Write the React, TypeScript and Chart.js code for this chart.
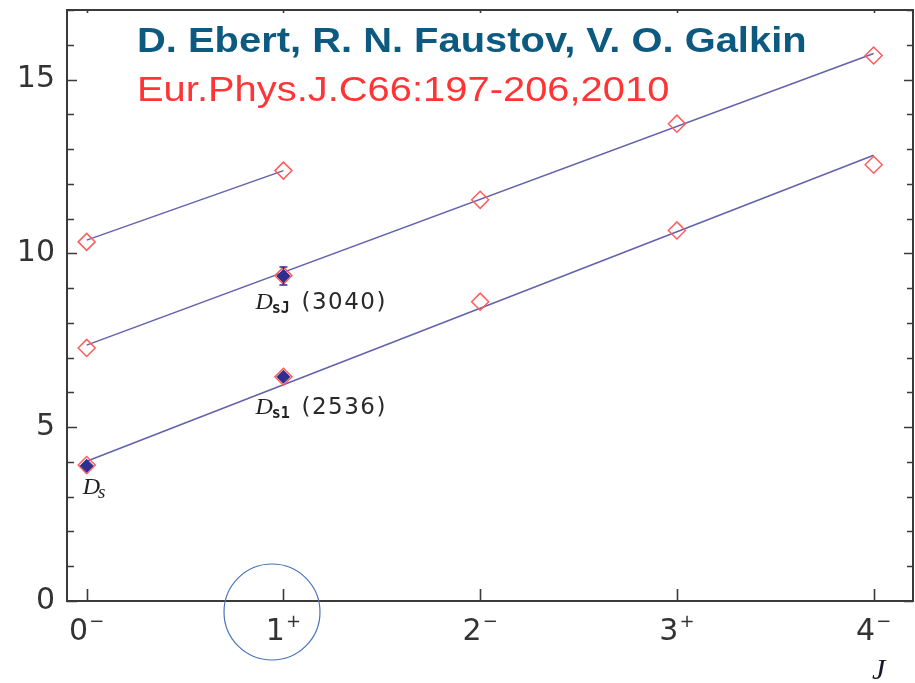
import { useEffect, useRef } from 'react';
import { Chart, registerables } from 'chart.js';

Chart.register(...registerables);

// ---- data ----
const jValues = [0, 1, 2, 3, 4];
const jParity = ['−', '+', '−', '+', '−'];
const yMajorTicks = [0, 5, 10, 15];
const yMinorTicks = [1, 2, 3, 4, 6, 7, 8, 9, 11, 12, 13, 14, 16, 17];

const theoryUpperJ = [0, 1];
const theoryUpper = [10.33, 12.38];
const theoryMiddle = [7.28, 9.36, 11.54, 13.73, 15.69];
const theoryLower = [3.91, 6.45, 8.61, 10.66, 12.55];

const fitUpperJ = [0, 1];
const fitUpper = [10.38, 12.38];
const fitMiddleJ = [0, 4];
const fitMiddle = [7.36, 15.75];
const fitLowerJ = [0, 4];
const fitLower = [4.02, 12.82];

const expJ = [0, 1, 1];
const expMass = [3.89, 6.45, 9.35];
const expErr = [0, 0.05, 0.26];
const expName = ['D', 'D', 'D'];
const expSub = ['s', 's1', 'sJ'];
const expNote = ['', '(2536)', '(3040)'];

const titleAuthors = 'D. Ebert, R. N. Faustov, V. O. Galkin';
const titleRef = 'Eur.Phys.J.C66:197-206,2010';
const xAxisTitle = 'J';

const pts = (xs: number[], ys: number[]) => ys.map((y, i) => ({ x: xs[i], y }));

const LINE_COLOR = 'rgba(80,80,165,0.9)';
const OPEN_COLOR = '#ff5c5c';
const FILL_COLOR = '#2f2f8f';
const AXIS_COLOR = '#3a3a3a';

const decorPlugin = {
  id: 'decor',
  afterDatasetsDraw(chart: any) {
    const ctx = chart.ctx as CanvasRenderingContext2D;
    const xs = chart.scales.x;
    const ys = chart.scales.y;
    const { left, right, top, bottom } = chart.chartArea;
    ctx.save();

    // error bars
    ctx.strokeStyle = FILL_COLOR;
    ctx.lineWidth = 1.5;
    expJ.forEach((j, i) => {
      if (!expErr[i]) return;
      const px = xs.getPixelForValue(j);
      const y1 = ys.getPixelForValue(expMass[i] + expErr[i]);
      const y2 = ys.getPixelForValue(expMass[i] - expErr[i]);
      ctx.beginPath();
      ctx.moveTo(px, y1);
      ctx.lineTo(px, y2);
      ctx.moveTo(px - 4, y1);
      ctx.lineTo(px + 4, y1);
      ctx.moveTo(px - 4, y2);
      ctx.lineTo(px + 4, y2);
      ctx.stroke();
    });

    // frame
    ctx.strokeStyle = AXIS_COLOR;
    ctx.lineWidth = 2;
    ctx.strokeRect(left, top, right - left, bottom - top);

    // y ticks
    ctx.lineWidth = 1.6;
    const drawY = (v: number, len: number) => {
      const py = Math.round(ys.getPixelForValue(v)) + 0.5;
      ctx.beginPath();
      ctx.moveTo(left, py);
      ctx.lineTo(left + len, py);
      ctx.moveTo(right, py);
      ctx.lineTo(right - len + 1, py);
      ctx.stroke();
    };
    yMajorTicks.forEach((v) => drawY(v, 10));
    yMinorTicks.forEach((v) => drawY(v, 7));

    // x ticks
    jValues.forEach((j) => {
      const px = Math.round(xs.getPixelForValue(j)) + 0.5;
      ctx.beginPath();
      ctx.moveTo(px, bottom);
      ctx.lineTo(px, bottom - 12);
      ctx.moveTo(px, top);
      ctx.lineTo(px, top + 3);
      ctx.stroke();
    });

    // y tick labels
    ctx.fillStyle = '#333';
    ctx.font = '30px "DejaVu Sans"';
    ctx.textAlign = 'right';
    ctx.textBaseline = 'middle';
    yMajorTicks.forEach((v) => {
      ctx.fillText(String(v), 55, ys.getPixelForValue(v));
    });

    // x tick labels with parity superscripts
    ctx.textBaseline = 'alphabetic';
    ctx.textAlign = 'left';
    jValues.forEach((j, i) => {
      const px = xs.getPixelForValue(j);
      ctx.font = '30px "DejaVu Sans"';
      const dw = ctx.measureText(String(j)).width;
      ctx.font = '18px "DejaVu Sans"';
      const sw = ctx.measureText(jParity[i]).width;
      const x0 = px - (dw + sw + 1) / 2;
      ctx.font = '30px "DejaVu Sans"';
      ctx.fillText(String(j), x0, 640);
      ctx.font = '18px "DejaVu Sans"';
      ctx.fillText(jParity[i], x0 + dw + 1, 627);
    });

    // x axis title
    ctx.font = 'italic 30px "Liberation Serif"';
    ctx.fillStyle = '#1a1a2a';
    ctx.fillText(xAxisTitle, 872, 679);

    // experimental labels
    const offs = [
      [-4, 28],
      [-28, 37],
      [-28, 33],
    ];
    expJ.forEach((j, i) => {
      const px = xs.getPixelForValue(j) + offs[i][0];
      const py = ys.getPixelForValue(expMass[i]) + offs[i][1];
      ctx.fillStyle = '#222';
      ctx.font = 'italic 24px "Liberation Serif"';
      ctx.fillText(expName[i], px, py);
      const dW = ctx.measureText(expName[i]).width;
      if (expNote[i]) {
        ctx.font = 'bold 15px "DejaVu Sans Mono"';
        ctx.fillText(expSub[i], px + dW - 1, py + 4);
        ctx.fillStyle = '#2a2a2a';
        ctx.font = '23px "DejaVu Sans"';
        (ctx as any).letterSpacing = '1.5px';
        ctx.fillText(expNote[i], px + 46, py);
        (ctx as any).letterSpacing = '0px';
      } else {
        ctx.font = 'italic 19px "Liberation Serif"';
        ctx.fillText(expSub[i], px + dW - 2, py + 4);
      }
    });

    // titles (horizontally stretched as in the reference)
    ctx.save();
    ctx.translate(137, 0);
    ctx.scale(1.14, 1);
    ctx.font = 'bold 35px "Liberation Sans"';
    ctx.fillStyle = '#0d5a80';
    ctx.fillText(titleAuthors, 0, 52);
    ctx.font = '35px "Liberation Sans"';
    ctx.fillStyle = '#ff3535';
    ctx.fillText(titleRef, 0, 101);
    ctx.restore();

    // highlight circle
    ctx.strokeStyle = '#4a72b8';
    ctx.lineWidth = 1.2;
    ctx.beginPath();
    ctx.arc(272, 612, 48, 0, Math.PI * 2);
    ctx.stroke();

    ctx.restore();
  },
};

export default function App() {
  const ref = useRef<HTMLCanvasElement>(null);
  useEffect(() => {
    if (!ref.current) return;
    const lineDs = (data: any) => ({
      data,
      showLine: true,
      borderColor: LINE_COLOR,
      borderWidth: 1.5,
      pointRadius: 0,
      order: 3,
    });
    const openDs = (data: any) => ({
      data,
      showLine: false,
      pointStyle: 'rectRot',
      pointRadius: 8.5,
      pointBorderWidth: 1.5,
      pointBorderColor: OPEN_COLOR,
      pointBackgroundColor: 'rgba(0,0,0,0)',
      order: 2,
    });
    const chart = new Chart(ref.current, {
      type: 'scatter',
      data: {
        datasets: [
          lineDs(pts(fitUpperJ, fitUpper)),
          lineDs(pts(fitMiddleJ, fitMiddle)),
          lineDs(pts(fitLowerJ, fitLower)),
          openDs(pts(theoryUpperJ, theoryUpper)),
          openDs(pts(jValues, theoryMiddle)),
          openDs(pts(jValues, theoryLower)),
          {
            data: pts(expJ, expMass),
            showLine: false,
            pointStyle: 'rectRot',
            pointRadius: 6.5,
            pointBorderWidth: 1,
            pointBorderColor: FILL_COLOR,
            pointBackgroundColor: FILL_COLOR,
            order: 1,
          },
        ] as any,
      },
      options: {
        animation: false,
        responsive: false,
        devicePixelRatio: 1,
        layout: { autoPadding: false, padding: { left: 67, top: 10, right: 2, bottom: 82 } },
        plugins: { legend: { display: false }, tooltip: { enabled: false } },
        scales: {
          x: { type: 'linear', min: -0.1, max: 4.2, display: false },
          y: { type: 'linear', min: 0, max: 17, display: false },
        },
      },
      plugins: [decorPlugin],
    });
    return () => chart.destroy();
  }, []);
  return (
    <div style={{ position: 'absolute', left: 0, top: 0, width: 915, height: 683, background: '#fff' }}>
      <canvas ref={ref} width={915} height={683} style={{ width: 915, height: 683 }} />
    </div>
  );
}
